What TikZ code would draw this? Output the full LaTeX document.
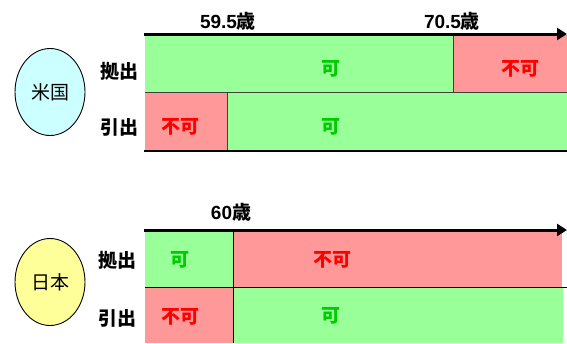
\documentclass[tikz,border=0pt]{standalone}
\usepackage{fontspec}
\setmainfont{Liberation Sans}
\newfontfamily\jp{Noto Sans CJK JP}
\usetikzlibrary{arrows.meta}
\definecolor{cgreen}{HTML}{99FF99}
\definecolor{cred}{HTML}{FF9999}
\definecolor{tgreen}{HTML}{00CC00}
\definecolor{tred}{HTML}{FF0000}
\definecolor{ccyan}{HTML}{CCFFFF}
\definecolor{cyellow}{HTML}{FFFF99}
\tikzset{
  cellg/.style={fill=cgreen},
  cellr/.style={fill=cred},
  ok/.style={font=\jp\bfseries\fontsize{19}{19}\selectfont, text=tgreen, inner sep=0pt},
  ng/.style={font=\jp\bfseries\fontsize{19}{19}\selectfont, text=tred, inner sep=0pt},
  rowlab/.style={font=\jp\bfseries\fontsize{19}{19}\selectfont, inner sep=0pt},
  agelab/.style={font=\bfseries\fontsize{19}{19}\selectfont, inner sep=0pt},
  country/.style={draw=black, line width=0.9pt, ellipse, minimum width=70pt, minimum height=87pt, inner sep=0pt, font=\jp\fontsize{19}{19}\selectfont},
  axis/.style={line width=3pt, -{Triangle[length=10pt,width=12pt]}},
  baseline/.style={line width=2.5pt},
  sep/.style={line width=0.8pt, draw=black!75},
}
\usetikzlibrary{shapes.geometric}
\begin{document}
\begin{tikzpicture}[x=1pt,y=-1pt]
\useasboundingbox (0,0) rectangle (567,343);
% ---------- USA ----------
\fill[cellg] (145,35) rectangle (453,92);
\fill[cellr] (453,35) rectangle (567,92);
\fill[cellr] (145,92) rectangle (227,151);
\fill[cellg] (227,92) rectangle (567,151);
\coordinate (ua0) at (144,34);
\coordinate (ua1) at (567,34);
\coordinate (ub0) at (144,151);
\coordinate (ub1) at (567,151);
\coordinate (um0) at (145,92);
\coordinate (um1) at (567,92);
\coordinate (uv1t) at (453,35);
\coordinate (uv1b) at (453,92);
\coordinate (uv2t) at (227,92);
\coordinate (uv2b) at (227,151);
\draw[sep] (um0) -- (um1);
\draw[sep] (uv1t) -- (uv1b);
\draw[sep] (uv2t) -- (uv2b);
\draw[axis] (ua0) -- (ua1);
\draw[baseline] (ub0) -- (ub1);
\node[agelab] (u595) at (228,21) {59.5{\jp 歳}};
\node[agelab] (u705) at (452,21) {70.5{\jp 歳}};
\node[rowlab] (ukyo) at (119,71) {拠出};
\node[rowlab] (uhiki) at (119,127) {引出};
\node[ok] (u1) at (331,69) {可};
\node[ng] (u2) at (520,69) {不可};
\node[ng] (u3) at (180,127) {不可};
\node[ok] (u4) at (331,127) {可};
\node[country, fill=ccyan] (usa) at (50,92) {米国};
% ---------- Japan ----------
\fill[cellg] (145,231) rectangle (233,287);
\fill[cellr] (233,231) rectangle (562,287);
\fill[cellr] (145,287) rectangle (233,343);
\fill[cellg] (233,287) rectangle (563,343);
\coordinate (ja0) at (144,230);
\coordinate (ja1) at (567,230);
\coordinate (jm0) at (145,287);
\coordinate (jm1) at (567,287);
\coordinate (jvt) at (233,231);
\coordinate (jvb) at (233,343);
\draw[sep, draw=black] (jm0) -- (jm1);
\draw[sep, draw=black] (jvt) -- (jvb);
\draw[axis] (ja0) -- (ja1);
\node[agelab] (j60) at (231,212) {60{\jp 歳}};
\node[rowlab] (jkyo) at (117,260) {拠出};
\node[rowlab] (jhiki) at (117,318) {引出};
\node[ok] (j1) at (180,260) {可};
\node[ng] (j2) at (332,260) {不可};
\node[ng] (j3) at (180,317) {不可};
\node[ok] (j4) at (331,316) {可};
\node[country, fill=cyellow] (jpn) at (50,282) {日本};
\end{tikzpicture}
\end{document}
